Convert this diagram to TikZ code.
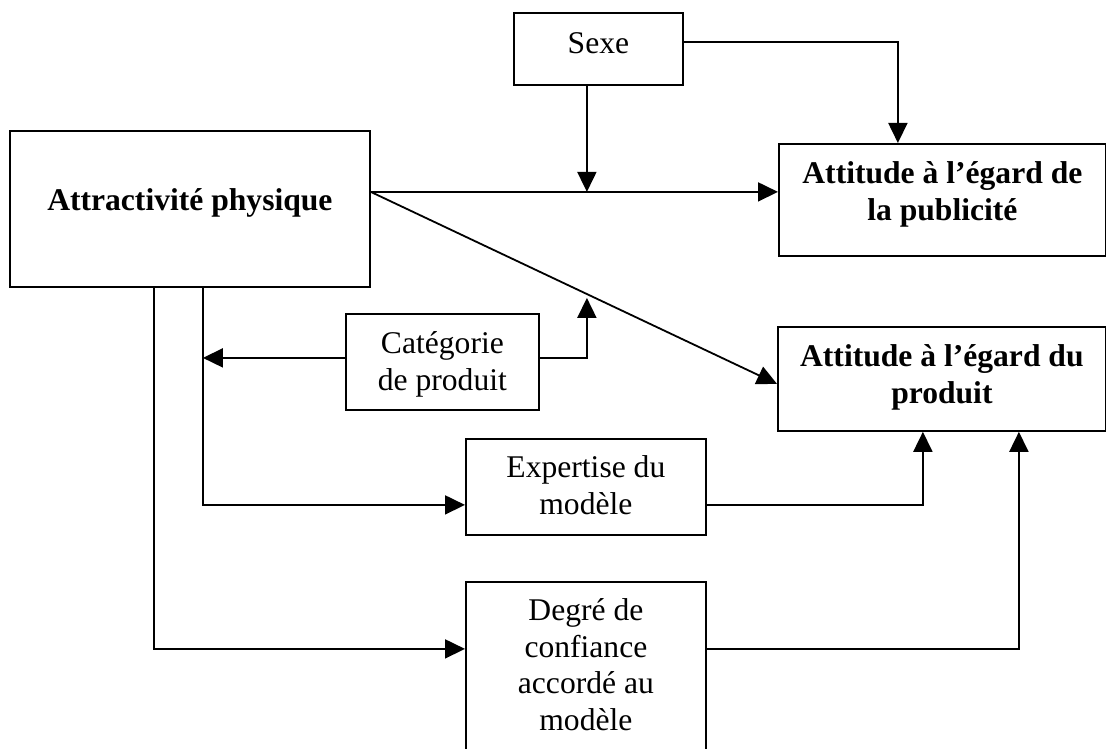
\documentclass[tikz,border=0pt]{standalone}
\usepackage{fontspec}
\setmainfont{Liberation Serif}
\usetikzlibrary{arrows.meta,calc}
\begin{document}
\begin{tikzpicture}[x=1pt,y=-1pt,
  box/.style={draw, line width=1.8pt, inner sep=0pt, align=flush center, anchor=north west,
    font=\fontsize{31.6}{36.5}\selectfont},
  boxb/.style={box, font=\fontsize{31.6}{36.5}\selectfont\bfseries},
  arr/.style={line width=1.8pt, -{Triangle[length=20pt,width=19pt]}}]
\clip (0,0) rectangle (1106,749);
% boxes
\node[box, text width=169pt, text height=41pt, text depth=31pt] (sexe) at (513,12) {Sexe};
\node[boxb, text width=360pt, text height=80pt, text depth=76pt] (attr) at (9,130) {Attractivité physique};
\node[boxb, text width=327pt, text height=40pt, text depth=72pt] (pub) at (778,143) {Attitude à l’égard de\\la publicité};
\node[boxb, text width=328pt, text height=40pt, text depth=64pt] (prod) at (777,326) {Attitude à l’égard du\\produit};
\node[box, text width=193pt, text height=40pt, text depth=56pt] (cat) at (345,313) {Catégorie\\de produit};
\node[box, text width=240pt, text height=39pt, text depth=57pt] (exp) at (465,438) {Expertise du\\modèle};
\node[box, text width=240pt, text height=39pt, text depth=180pt] (deg) at (465,581) {Degré de\\confiance\\accordé au\\modèle};
% helper coordinates
\coordinate (m1) at ([yshift=17pt]attr.east);
\coordinate (s1) at ([xshift=-11.5pt]sexe.south);
\coordinate (v1) at ([xshift=-36pt]attr.south);
\coordinate (v2) at ([xshift=13pt]attr.south);
\coordinate (cw) at ([yshift=4pt]cat.west);
\coordinate (ce) at ([yshift=4pt]cat.east);
% connectors
\draw[arr] (m1) -- (m1 -| pub.west);
\draw[arr] (m1) -- ([yshift=-5pt]prod.west);
\draw[arr] (s1) -- (s1 |- m1);
\draw[arr] ([yshift=7pt]sexe.east) -| ([xshift=-44.5pt]pub.north);
\draw[arr] (cw) -- (cw -| v2);
\draw[arr] (ce) -| ($(s1 |- ce)+(0,-60)$);
\draw[arr] (v2) |- ([yshift=-18pt]exp.west);
\draw[arr] ([yshift=-18pt]exp.east) -| ([xshift=-19pt]prod.south);
\draw[arr] (v1) |- ([yshift=42.5pt]deg.west);
\draw[arr] ([yshift=42.5pt]deg.east) -| ([xshift=77pt]prod.south);
\end{tikzpicture}
\end{document}
